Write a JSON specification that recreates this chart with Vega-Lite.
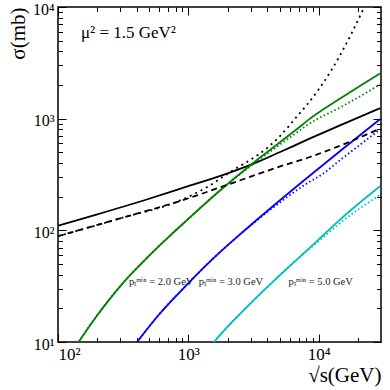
{
  "$schema": "https://vega.github.io/schema/vega-lite/v6.json",
  "width": 323,
  "height": 335,
  "autosize": "none",
  "padding": {"left": 58, "top": 7, "right": 9, "bottom": 48},
  "config": {
    "view": {"stroke": "black", "strokeWidth": 1.5},
    "axis": {"domain": false, "grid": false, "tickColor": "black", "tickWidth": 1, "labelFont": "Liberation Serif", "labelFontSize": 17, "labelColor": "black", "titleFont": "Liberation Serif", "titleFontSize": 21, "titleFontWeight": "normal", "titleColor": "black"}
  },
  "datasets": {
    "solid": [
      {"c": "tot", "x": 100, "y": 110}, {"c": "tot", "x": 200, "y": 139}, {"c": "tot", "x": 460, "y": 186}, {"c": "tot", "x": 930, "y": 242}, {"c": "tot", "x": 2000, "y": 324}, {"c": "tot", "x": 3270, "y": 402}, {"c": "tot", "x": 5000, "y": 500}, {"c": "tot", "x": 8330, "y": 655}, {"c": "tot", "x": 15000, "y": 884}, {"c": "tot", "x": 29500, "y": 1240},
      {"c": "pt2", "x": 144, "y": 10}, {"c": "pt2", "x": 190, "y": 16}, {"c": "pt2", "x": 248, "y": 24.1}, {"c": "pt2", "x": 323, "y": 34.9}, {"c": "pt2", "x": 473, "y": 55.6}, {"c": "pt2", "x": 687, "y": 84.7}, {"c": "pt2", "x": 927, "y": 117}, {"c": "pt2", "x": 1820, "y": 237}, {"c": "pt2", "x": 3266, "y": 416}, {"c": "pt2", "x": 7000, "y": 828}, {"c": "pt2", "x": 8330, "y": 975}, {"c": "pt2", "x": 15000, "y": 1545}, {"c": "pt2", "x": 29500, "y": 2540},
      {"c": "pt3", "x": 404, "y": 10}, {"c": "pt3", "x": 600, "y": 17.8}, {"c": "pt3", "x": 927, "y": 30.7}, {"c": "pt3", "x": 1524, "y": 55}, {"c": "pt3", "x": 2500, "y": 92.5}, {"c": "pt3", "x": 4130, "y": 153}, {"c": "pt3", "x": 8330, "y": 302}, {"c": "pt3", "x": 15000, "y": 527}, {"c": "pt3", "x": 29500, "y": 990},
      {"c": "pt5", "x": 1570, "y": 10}, {"c": "pt5", "x": 2000, "y": 13.7}, {"c": "pt5", "x": 3000, "y": 22.2}, {"c": "pt5", "x": 6820, "y": 55}, {"c": "pt5", "x": 10000, "y": 83}, {"c": "pt5", "x": 14130, "y": 121}, {"c": "pt5", "x": 29500, "y": 248}
    ],
    "dashed": [
      {"c": "tot", "x": 100, "y": 88.7}, {"c": "tot", "x": 300, "y": 128}, {"c": "tot", "x": 900, "y": 186}, {"c": "tot", "x": 2170, "y": 265}, {"c": "tot", "x": 5000, "y": 372}, {"c": "tot", "x": 8330, "y": 449}, {"c": "tot", "x": 15000, "y": 581}, {"c": "tot", "x": 29500, "y": 815}
    ],
    "dotted": [
      {"c": "tot", "x": 100, "y": 88.7}, {"c": "tot", "x": 300, "y": 128}, {"c": "tot", "x": 900, "y": 189}, {"c": "tot", "x": 1358, "y": 240}, {"c": "tot", "x": 2046, "y": 327}, {"c": "tot", "x": 4130, "y": 562}, {"c": "tot", "x": 4920, "y": 678}, {"c": "tot", "x": 7000, "y": 1089}, {"c": "tot", "x": 8090, "y": 1324}, {"c": "tot", "x": 12560, "y": 2748}, {"c": "tot", "x": 21300, "y": 8890}, {"c": "tot", "x": 22330, "y": 10000},
      {"c": "pt2", "x": 144, "y": 10}, {"c": "pt2", "x": 190, "y": 16}, {"c": "pt2", "x": 248, "y": 24.1}, {"c": "pt2", "x": 323, "y": 34.9}, {"c": "pt2", "x": 473, "y": 55.6}, {"c": "pt2", "x": 687, "y": 84.7}, {"c": "pt2", "x": 927, "y": 117}, {"c": "pt2", "x": 1820, "y": 237}, {"c": "pt2", "x": 3266, "y": 405}, {"c": "pt2", "x": 7000, "y": 770}, {"c": "pt2", "x": 8330, "y": 890}, {"c": "pt2", "x": 15000, "y": 1282}, {"c": "pt2", "x": 29500, "y": 2019},
      {"c": "pt3", "x": 404, "y": 10}, {"c": "pt3", "x": 600, "y": 17.8}, {"c": "pt3", "x": 927, "y": 30.7}, {"c": "pt3", "x": 1524, "y": 55}, {"c": "pt3", "x": 2500, "y": 92.5}, {"c": "pt3", "x": 4130, "y": 149}, {"c": "pt3", "x": 8330, "y": 268}, {"c": "pt3", "x": 10540, "y": 316}, {"c": "pt3", "x": 15000, "y": 437}, {"c": "pt3", "x": 29500, "y": 800},
      {"c": "pt5", "x": 1570, "y": 10}, {"c": "pt5", "x": 2000, "y": 13.7}, {"c": "pt5", "x": 3000, "y": 22.2}, {"c": "pt5", "x": 6820, "y": 55}, {"c": "pt5", "x": 10000, "y": 80}, {"c": "pt5", "x": 14130, "y": 113}, {"c": "pt5", "x": 29500, "y": 208}
    ],
    "labels": [
      {"x": 350, "y": 34.2, "t": "pₜᵐⁱⁿ = 2.0 GeV"},
      {"x": 1200, "y": 34.2, "t": "pₜᵐⁱⁿ = 3.0 GeV"},
      {"x": 5850, "y": 34.2, "t": "pₜᵐⁱⁿ = 5.0 GeV"}
    ],
    "note": [
      {"x": 150, "y": 5890, "t": "μ² = 1.5 GeV²"}
    ]
  },
  "resolve": {"axis": {"x": "independent", "y": "independent"}},
  "layer": [
    {
      "data": {"name": "solid"},
      "mark": {"type": "line", "strokeWidth": 1.8, "clip": true, "interpolate": "monotone"},
      "encoding": {
        "x": {"field": "x", "type": "quantitative", "scale": {"type": "log", "domain": [100, 30000], "nice": false},
          "axis": {"orient": "bottom", "values": [100, 1000, 10000], "tickSize": -8, "labelPadding": 12,
            "labelExpr": "datum.value < 500 ? '10²' : datum.value < 5000 ? '10³' : '10⁴'",
            "title": "√s(GeV)", "titleAnchor": "end", "titlePadding": 2}},
        "y": {"field": "y", "type": "quantitative", "scale": {"type": "log", "domain": [10, 10000], "nice": false},
          "axis": {"orient": "left", "values": [10, 100, 1000, 10000], "tickSize": -8, "labelPadding": 12, "labelFontSize": 16, "labelOffset": 2,
            "labelExpr": "datum.value < 50 ? '10¹' : datum.value < 500 ? '10²' : datum.value < 5000 ? '10³' : '10⁴'",
            "title": "σ(mb)", "titleAnchor": "end", "titlePadding": 4}},
        "color": {"field": "c", "type": "nominal", "scale": {"domain": ["tot", "pt2", "pt3", "pt5"], "range": ["#000000", "#008000", "#0000ff", "#00bfbf"]}, "legend": null}
      }
    },
    {
      "data": {"name": "dashed"},
      "mark": {"type": "line", "strokeWidth": 1.8, "strokeDash": [6, 4], "clip": true, "interpolate": "monotone"},
      "encoding": {
        "x": {"field": "x", "type": "quantitative", "scale": {"type": "log", "domain": [100, 30000], "nice": false},
          "axis": {"orient": "bottom", "values": [200, 300, 400, 500, 600, 700, 800, 900, 2000, 3000, 4000, 5000, 6000, 7000, 8000, 9000, 20000], "tickSize": -4.5, "labels": false, "title": null}},
        "y": {"field": "y", "type": "quantitative", "scale": {"type": "log", "domain": [10, 10000], "nice": false},
          "axis": {"orient": "left", "values": [20, 30, 40, 50, 60, 70, 80, 90, 200, 300, 400, 500, 600, 700, 800, 900, 2000, 3000, 4000, 5000, 6000, 7000, 8000, 9000], "tickSize": -4.5, "labels": false, "title": null}},
        "color": {"field": "c", "type": "nominal", "scale": {"domain": ["tot", "pt2", "pt3", "pt5"], "range": ["#000000", "#008000", "#0000ff", "#00bfbf"]}, "legend": null}
      }
    },
    {
      "data": {"name": "dotted"},
      "mark": {"type": "line", "strokeWidth": 1.8, "clip": true, "interpolate": "monotone"},
      "encoding": {
        "x": {"field": "x", "type": "quantitative", "scale": {"type": "log", "domain": [100, 30000], "nice": false},
          "axis": {"orient": "top", "values": [100, 1000, 10000], "tickSize": -8, "labels": false, "title": null}},
        "y": {"field": "y", "type": "quantitative", "scale": {"type": "log", "domain": [10, 10000], "nice": false},
          "axis": {"orient": "right", "values": [10, 100, 1000, 10000], "tickSize": -8, "labels": false, "title": null}},
        "color": {"field": "c", "type": "nominal", "scale": {"domain": ["tot", "pt2", "pt3", "pt5"], "range": ["#000000", "#008000", "#0000ff", "#00bfbf"]}, "legend": null},
        "strokeDash": {"field": "c", "type": "nominal", "scale": {"domain": ["tot", "pt2", "pt3", "pt5"], "range": [[2, 4], [1.5, 2.5], [1.5, 2.5], [1.5, 2.5]]}, "legend": null}
      }
    },
    {
      "data": {"name": "labels"},
      "mark": {"type": "text", "align": "left", "baseline": "middle", "font": "Liberation Serif", "fontSize": 10.5, "color": "#222222"},
      "encoding": {
        "x": {"field": "x", "type": "quantitative", "scale": {"type": "log", "domain": [100, 30000], "nice": false},
          "axis": {"orient": "top", "values": [200, 300, 400, 500, 600, 700, 800, 900, 2000, 3000, 4000, 5000, 6000, 7000, 8000, 9000, 20000], "tickSize": -4.5, "labels": false, "title": null}},
        "y": {"field": "y", "type": "quantitative", "scale": {"type": "log", "domain": [10, 10000], "nice": false},
          "axis": {"orient": "right", "values": [20, 30, 40, 50, 60, 70, 80, 90, 200, 300, 400, 500, 600, 700, 800, 900, 2000, 3000, 4000, 5000, 6000, 7000, 8000, 9000], "tickSize": -4.5, "labels": false, "title": null}},
        "text": {"field": "t"}
      }
    },
    {
      "data": {"name": "note"},
      "mark": {"type": "text", "align": "left", "baseline": "middle", "font": "Liberation Serif", "fontSize": 17, "color": "black"},
      "encoding": {
        "x": {"field": "x", "type": "quantitative", "scale": {"type": "log", "domain": [100, 30000], "nice": false}, "axis": null},
        "y": {"field": "y", "type": "quantitative", "scale": {"type": "log", "domain": [10, 10000], "nice": false}, "axis": null},
        "text": {"field": "t"}
      }
    }
  ]
}
